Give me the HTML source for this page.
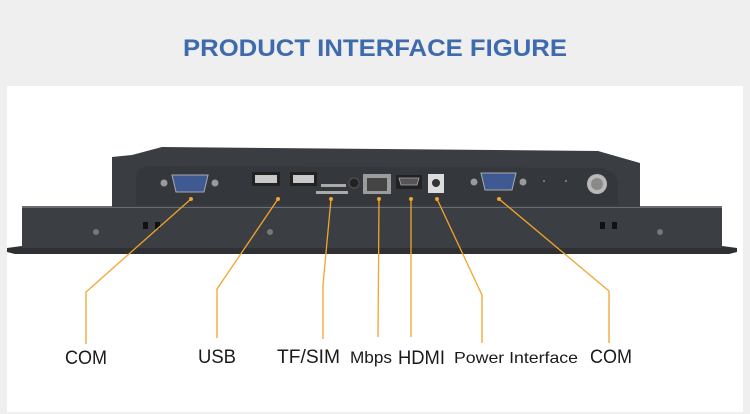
<!DOCTYPE html>
<html><head><style>
html,body{margin:0;padding:0;background:#efefef;}
svg{display:block}
text{font-family:"Liberation Sans",Arial,sans-serif;}
</style></head><body>
<svg width="750" height="414" viewBox="0 0 750 414" xmlns="http://www.w3.org/2000/svg">
<rect x="0" y="0" width="750" height="414" fill="#efefef"/>
<rect x="7" y="86" width="736" height="326" fill="#ffffff"/>
<text x="375" y="56" text-anchor="middle" font-size="24" font-weight="bold" fill="#3e6aae" textLength="384" lengthAdjust="spacingAndGlyphs">PRODUCT INTERFACE FIGURE</text>

<!-- lower plate -->
<path d="M7 248 L22 246 L722 246 L737 248 L737 252 L729 254 L15 254 L7 252 Z" fill="#2e3034"/>
<rect x="22" y="206" width="700" height="42" fill="#3b3e43"/>
<rect x="22" y="206" width="700" height="2" fill="#6a6d72"/>
<!-- upper box -->
<path d="M112 157 L132 155 L162 147 L598 151 L640 163 L640 207 L112 207 Z" fill="#3a3d42"/>
<path d="M136 174 Q138 167 150 166 L600 168 Q614 170 618 180 L618 205 L136 205 Z" fill="#34373c"/>

<!-- COM1 -->
<circle cx="164" cy="183" r="3.5" fill="#9a9a9a"/><circle cx="215" cy="183" r="3.5" fill="#9a9a9a"/>
<path d="M172 175 L208 175 L204 192 L176 192 Z" fill="#3f5a93" stroke="#aaa" stroke-width="1"/>
<!-- USB -->
<rect x="252" y="172" width="28" height="14" fill="#222"/><rect x="255" y="175" width="22" height="8" fill="#c9c9c9"/>
<rect x="290" y="172" width="27" height="14" fill="#222"/><rect x="293" y="175" width="21" height="8" fill="#c9c9c9"/>
<!-- SD -->
<rect x="321" y="184" width="25" height="3" fill="#aaa"/>
<rect x="316" y="191" width="32" height="3" fill="#aaa"/>
<circle cx="354" cy="183" r="5" fill="#222" stroke="#555"/>
<!-- RJ45 -->
<rect x="363" y="174" width="28" height="20" fill="#9c9c9c"/><rect x="367" y="178" width="20" height="13" fill="#444"/>
<!-- HDMI -->
<rect x="396" y="175" width="26" height="14" fill="#222"/><path d="M399 178 L419 178 L417 185 L401 185 Z" fill="#555" stroke="#aaa" stroke-width="0.8"/>
<!-- DC -->
<rect x="428" y="174" width="16" height="19" fill="#ddd"/><circle cx="436" cy="183" r="4" fill="#333"/>
<!-- COM2 -->
<circle cx="474" cy="182" r="3.5" fill="#9a9a9a"/><circle cx="523" cy="182" r="3.5" fill="#9a9a9a"/>
<path d="M481 173 L516 173 L512 190 L485 190 Z" fill="#3f5a93" stroke="#aaa" stroke-width="1"/>
<circle cx="544" cy="181" r="1" fill="#888"/><circle cx="566" cy="181" r="1" fill="#888"/>
<circle cx="597" cy="184" r="10" fill="#b8b8b8"/><circle cx="597" cy="184" r="6" fill="#8a8a8a"/>
<!-- screws & vents -->
<circle cx="96" cy="232" r="3" fill="#777"/><circle cx="270" cy="232" r="3" fill="#777"/><circle cx="660" cy="232" r="3" fill="#777"/>
<rect x="143" y="222" width="5" height="7" fill="#111"/><rect x="155" y="222" width="5" height="7" fill="#111"/>
<rect x="600" y="222" width="5" height="7" fill="#111"/><rect x="612" y="222" width="5" height="7" fill="#111"/>

<!-- leaders -->
<g stroke="#f2a52a" stroke-width="1.3" fill="none">
<polyline points="191,199 86,292 86,344"/>
<polyline points="278,199 217,289 217,338"/>
<polyline points="331,199 323,285 323,339"/>
<polyline points="379,199 378,337"/>
<polyline points="411,199 411,337"/>
<polyline points="437,199 482,295 482,343"/>
<polyline points="499,199 609,291 609,343"/>
</g>
<g fill="#f2a52a">
<circle cx="191" cy="199" r="2"/><circle cx="278" cy="199" r="2"/><circle cx="331" cy="199" r="2"/>
<circle cx="379" cy="199" r="2"/><circle cx="411" cy="199" r="2"/><circle cx="437" cy="199" r="2"/><circle cx="499" cy="199" r="2"/>
</g>
<g fill="#1a1a1a">
<text x="65" y="364" font-size="19" textLength="42" lengthAdjust="spacingAndGlyphs">COM</text>
<text x="198" y="363" font-size="19" textLength="38" lengthAdjust="spacingAndGlyphs">USB</text>
<text x="277" y="363" font-size="19" textLength="63" lengthAdjust="spacingAndGlyphs">TF/SIM</text>
<text x="350" y="363" font-size="17" textLength="42" lengthAdjust="spacingAndGlyphs">Mbps</text>
<text x="398" y="364" font-size="19" textLength="47" lengthAdjust="spacingAndGlyphs">HDMI</text>
<text x="454" y="363" font-size="16" textLength="124" lengthAdjust="spacingAndGlyphs">Power Interface</text>
<text x="590" y="363" font-size="19" textLength="42" lengthAdjust="spacingAndGlyphs">COM</text>
</g>
</svg>
</body></html>
